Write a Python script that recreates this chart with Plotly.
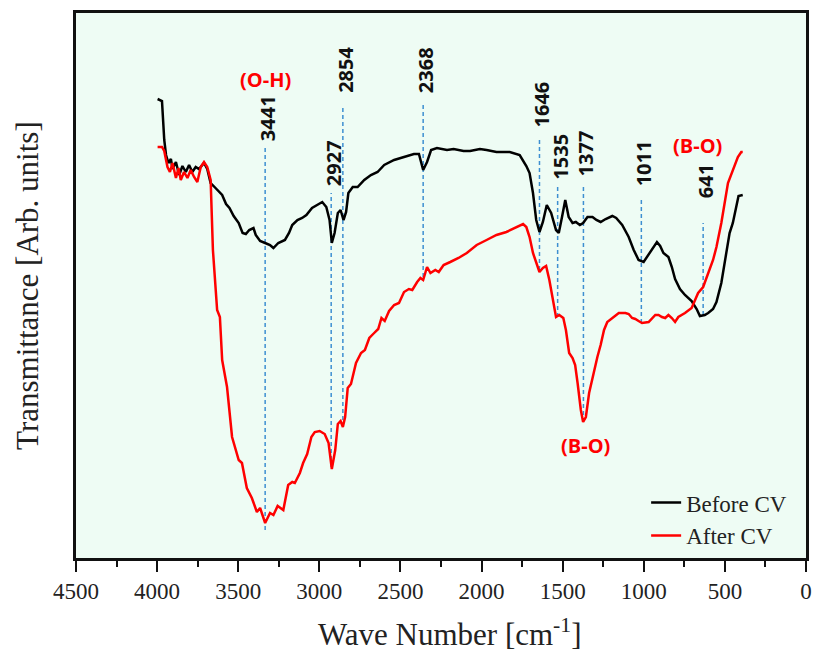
import plotly.graph_objects as go

# ---------------- data (wavenumber in cm^-1, transmittance in arbitrary units) ----------------
before_wn = [3997, 3970, 3956, 3945, 3930, 3915, 3905, 3884, 3864, 3844, 3823, 3803, 3783, 3762, 3742,
             3711, 3691, 3670, 3640, 3599, 3575, 3554, 3528, 3497, 3473, 3453, 3432, 3406, 3392, 3365,
             3334, 3304, 3283, 3253, 3212, 3187, 3167, 3135, 3106, 3080, 3045, 3008, 2982, 2957, 2937,
             2923, 2906, 2886, 2869, 2851, 2835, 2821, 2794, 2764, 2723, 2682, 2641, 2600, 2539, 2478,
             2417, 2386, 2372, 2360, 2336, 2311, 2275, 2213, 2172, 2111, 2071, 2010,
             1969, 1908, 1826, 1765, 1724, 1704, 1683, 1663, 1643, 1622, 1598, 1571, 1541, 1524, 1504,
             1484, 1463, 1439, 1419, 1394, 1374, 1347, 1316, 1292, 1266, 1235, 1194, 1170, 1133, 1093,
             1062, 1032, 1001, 970, 940, 919, 899, 879, 848, 827, 807, 777, 746, 705, 674, 654, 624, 603,
             573, 552, 522, 491, 471, 451, 430, 416, 390]
before_t = [459, 457, 418, 403, 395, 399, 389, 396, 383, 392, 386, 393, 386, 391, 389,
            395, 389, 375, 370, 363, 354, 350, 342, 335, 325, 324, 328, 330, 323, 317,
            315, 313, 310, 315, 318, 325, 333, 338, 340, 343, 350, 354, 356, 351, 338,
            315, 325, 345, 348, 338, 346, 365, 371, 371, 378, 383, 386, 393, 398, 401,
            404, 404, 396, 388, 396, 408, 410, 408, 409, 407, 407, 409,
            408, 406, 406, 403, 392, 385, 365, 338, 326, 336, 353, 345, 328, 325, 341,
            358, 341, 335, 336, 333, 335, 341, 341, 338, 336, 339, 342, 340, 333, 321,
            308, 298, 296, 304, 311, 316, 312, 305, 301, 291, 279, 269, 263, 257, 249, 242, 243, 245,
            249, 256, 275, 305, 325, 335, 353, 362, 363]

after_wn = [3997, 3970, 3956, 3936, 3921, 3905, 3884, 3868, 3854, 3834, 3813, 3793, 3772, 3752, 3731,
            3711, 3691, 3670, 3656, 3636, 3630, 3613, 3599, 3569, 3538, 3497, 3477, 3447, 3416, 3385,
            3365, 3334, 3304, 3283, 3257, 3222, 3192, 3167, 3151, 3120, 3100, 3075, 3049, 3028, 2998,
            2967, 2943, 2923, 2902, 2886, 2869, 2855, 2841, 2825, 2805, 2774, 2743, 2719, 2692, 2662,
            2637, 2617, 2597, 2570, 2539, 2509, 2478, 2448, 2427, 2397, 2377, 2360, 2336, 2315, 2285,
            2264, 2234, 2193, 2142, 2091, 2030, 1969, 1908, 1847, 1785, 1744, 1724, 1704, 1683, 1663,
            1643, 1622, 1602, 1582, 1561, 1541, 1521, 1496, 1480, 1460, 1439, 1423, 1408, 1388, 1374,
            1357, 1337, 1316, 1286, 1266, 1245, 1225, 1194, 1154, 1113, 1093, 1072, 1052, 1032, 1011,
            970, 929, 909, 888, 868, 848, 827, 807, 787, 746, 705, 665, 634, 603, 573, 552, 522, 481,
            451, 420, 399, 390]
after_t = [411, 411, 407, 391, 386, 395, 380, 390, 378, 386, 380, 388, 381, 376, 391,
           396, 391, 378, 308, 268, 248, 241, 198, 171, 121, 98, 95, 70, 60, 46,
           50, 35, 45, 43, 52, 48, 73, 76, 75, 85, 95, 104, 121, 126, 127,
           124, 115, 89, 108, 134, 137, 131, 141, 170, 174, 195, 205, 208, 220, 225,
           229, 240, 237, 247, 253, 255, 266, 269, 268, 276, 280, 278, 291, 285, 288,
           286, 293, 296, 300, 305, 313, 318, 323, 326, 331, 334, 331, 321, 305, 295,
           286, 290, 292, 278, 261, 241, 243, 240, 228, 205, 200, 193, 175, 148, 136,
           141, 165, 181, 201, 213, 228, 236, 240, 245, 245, 244, 240, 239, 237, 235,
           236, 243, 243, 241, 240, 243, 240, 236, 241, 245, 250, 265, 271, 285, 298, 311, 335, 375,
           388, 401, 406, 406]

# peak markers: label, position of dashed line, line top/bottom, label centre height
peak_labels = ["3441", "2927", "2854", "2368", "1646", "1535", "1377", "1011", "641"]
peak_x = [3334, 2927, 2855, 2360, 1643, 1531, 1372, 1015, 634]
peak_top = [411, 365, 453, 456, 420, 371, 372, 361, 335]
peak_bottom = [28, 91, 138, 281, 288, 241, 136, 235, 243]
peak_label_y = [440, 395, 488, 488, 454, 401, 405, 395, 377]

band_labels = ["(O-H)", "(B-O)", "(B-O)"]
band_x = [3334, 667, 1357]
band_y = [479, 413, 113]

x_tick_vals = [4500, 4000, 3500, 3000, 2500, 2000, 1500, 1000, 500, 0]

# ---------------- figure ----------------
fig = go.Figure()

dash_color = "#3D8FD1"
for lx, lt, lb in zip(peak_x, peak_top, peak_bottom):
    fig.add_trace(go.Scatter(x=[lx, lx], y=[lb, lt], mode="lines",
                             line=dict(color=dash_color, width=1.5, dash="4px,3px"),
                             showlegend=False, hoverinfo="skip"))

fig.add_trace(go.Scatter(x=before_wn, y=before_t, mode="lines", name="Before CV",
                         line=dict(color="#000000", width=2.5)))
fig.add_trace(go.Scatter(x=after_wn, y=after_t, mode="lines", name="After CV",
                         line=dict(color="#FF0000", width=2.5)))

for lab, lx, ly in zip(peak_labels, peak_x, peak_label_y):
    fig.add_annotation(x=lx, y=ly, text=lab, showarrow=False, textangle=-90,
                       xanchor="center", yanchor="middle", xshift=2,
                       font=dict(family="Open Sans", size=20, color="#111111", weight="bold"))

for lab, lx, ly in zip(band_labels, band_x, band_y):
    fig.add_annotation(x=lx, y=ly, text=lab, showarrow=False,
                       xanchor="center", yanchor="middle",
                       font=dict(family="Open Sans", size=20, color="#FF0000", weight="bold"))

serif = "Liberation Serif, Times New Roman, serif"
fig.add_annotation(xref="paper", yref="paper", x=0.511, y=-0.1376,
                   text="Wave Number [cm<sup>-1</sup>]", showarrow=False,
                   xanchor="center", yanchor="middle",
                   font=dict(family=serif, size=31, color="#222222"))
fig.add_annotation(xref="paper", yref="paper", x=-0.0666, y=0.5,
                   text="Transmittance [Arb. units]", showarrow=False, textangle=-90,
                   xanchor="center", yanchor="middle",
                   font=dict(family=serif, size=31, color="#222222"))

fig.update_layout(
    width=821, height=653,
    margin=dict(l=76, r=9, t=13, b=95),
    paper_bgcolor="#FFFFFF",
    plot_bgcolor="#EEFCF4",
    showlegend=True,
    legend=dict(x=0.781, y=0.141, xanchor="left", yanchor="top",
                bgcolor="rgba(0,0,0,0)", borderwidth=0,
                font=dict(family=serif, size=23, color="#222222"),
                tracegroupgap=0),
    xaxis=dict(range=[4500, 0], tickvals=x_tick_vals, ticks="outside",
               ticklen=11, tickwidth=2, tickcolor="#111111",
               minor=dict(dtick=250, ticks="outside", ticklen=6, tickwidth=2, tickcolor="#111111"),
               showline=True, linewidth=2.5, linecolor="#111111", mirror=True,
               showgrid=False, zeroline=False,
               tickfont=dict(family=serif, size=23, color="#222222")),
    yaxis=dict(range=[0, 545], showticklabels=False, ticks="",
               showline=True, linewidth=2.5, linecolor="#111111", mirror=True,
               showgrid=False, zeroline=False),
)

fig.write_html("out.html")
